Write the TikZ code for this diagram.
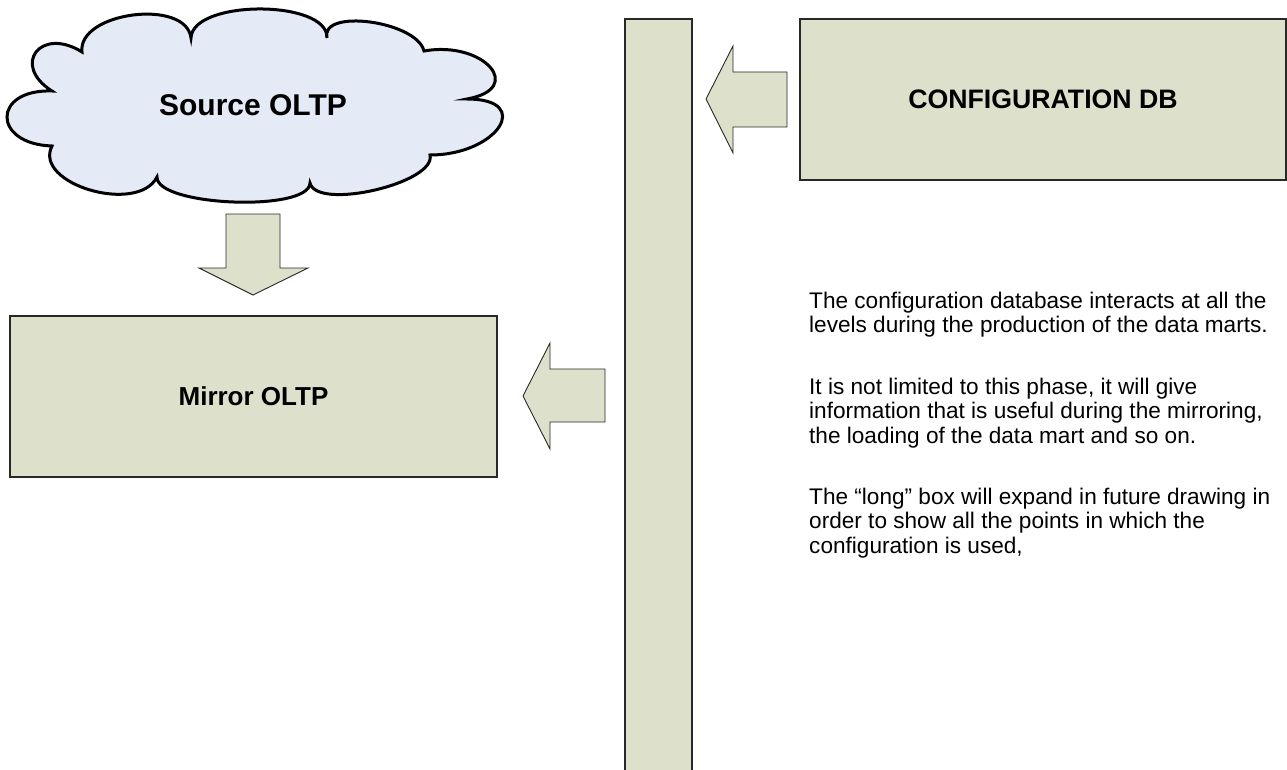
\documentclass[tikz,border=0pt]{standalone}
\usepackage{fontspec}
\setmainfont{Liberation Sans}
\definecolor{boxfill}{RGB}{221,224,202}
\definecolor{cloudfill}{RGB}{228,234,246}
\definecolor{edge}{RGB}{40,40,40}
\tikzset{
  box/.style={draw=edge, line width=1.3pt, fill=boxfill, inner sep=0pt, outer sep=0pt},
  blockarrow/.style={draw=edge, line width=0.9pt, fill=boxfill, line join=miter},
  cloudline/.style={draw=black, line width=3pt, fill=cloudfill, line join=miter},
  note/.style={anchor=base west, inner sep=0pt, font=\fontsize{22.6}{24.5}\selectfont}
}
\begin{document}
\begin{tikzpicture}[x=1pt, y=-1pt]
\useasboundingbox (0,0) rectangle (1287,770);
\fill[white] (0,0) rectangle (1287,770);
\begin{scope}
\clip (0,0) rectangle (1287,770);

% source system drawn as a cloud
\path[cloudline] (82,52)
  .. controls (77.3,12) and (186.3,-2) .. (191,38)
  .. controls (192.3,-0.7) and (328.3,-0.7) .. (327,38)
  .. controls (319.7,8) and (416.7,21) .. (424,51)
  .. controls (483.3,40.3) and (526.3,88.3) .. (467,99)
  .. controls (534.3,99) and (497.3,155) .. (430,155)
  .. controls (436.7,183) and (316.7,211) .. (310,183)
  .. controls (309.3,212.3) and (156.3,206.3) .. (157,177)
  .. controls (137.7,215) and (32.7,184) .. (52,146)
  .. controls (-8,144) and (-8,89) .. (52,91)
  .. controls (10.7,65) and (40.7,26) .. (82,52) -- cycle;
\node[font=\fontsize{30}{34}\selectfont\bfseries] (source) at (253,105) {Source OLTP};

% boxes
\node[box, minimum width=487pt, minimum height=161pt, font=\fontsize{26}{30}\selectfont\bfseries]
  (mirror) at (253.5,396.5) {Mirror OLTP};
\node[box, minimum width=486pt, minimum height=161pt, font=\fontsize{26.7}{30}\selectfont\bfseries]
  (config) at (1043,99.5) {CONFIGURATION DB};
\node[box, anchor=north west, minimum width=67pt, minimum height=780pt] (bar) at (625,19) {};

% block arrows
\path[blockarrow] (226,214) -- (280,214) -- (280,268) -- (308,268) -- (253,295)
  -- (199,268) -- (226,268) -- cycle;
\path[blockarrow] (787,72) -- (733,72) -- (733,46) -- (706,99) -- (733,153)
  -- (733,127) -- (787,127) -- cycle;
\path[blockarrow] (605,369) -- (550,369) -- (550,343) -- (523,396) -- (550,449)
  -- (550,422) -- (605,422) -- cycle;
\end{scope}

% explanatory notes
\node[note] (l1) at (809,308) {The configuration database interacts at all the};
\node[note] (l2) at (809,332.5) {levels during the production of the data marts.};
\node[note] (l3) at (809,394) {It is not limited to this phase, it will give};
\node[note] (l4) at (809,418.5) {information that is useful during the mirroring,};
\node[note] (l5) at (809,443) {the loading of the data mart and so on.};
\node[note] (l6) at (809,504) {The “long” box will expand in future drawing in};
\node[note] (l7) at (809,528.5) {order to show all the points in which the};
\node[note] (l8) at (809,553) {configuration is used,};
\end{tikzpicture}
\end{document}
